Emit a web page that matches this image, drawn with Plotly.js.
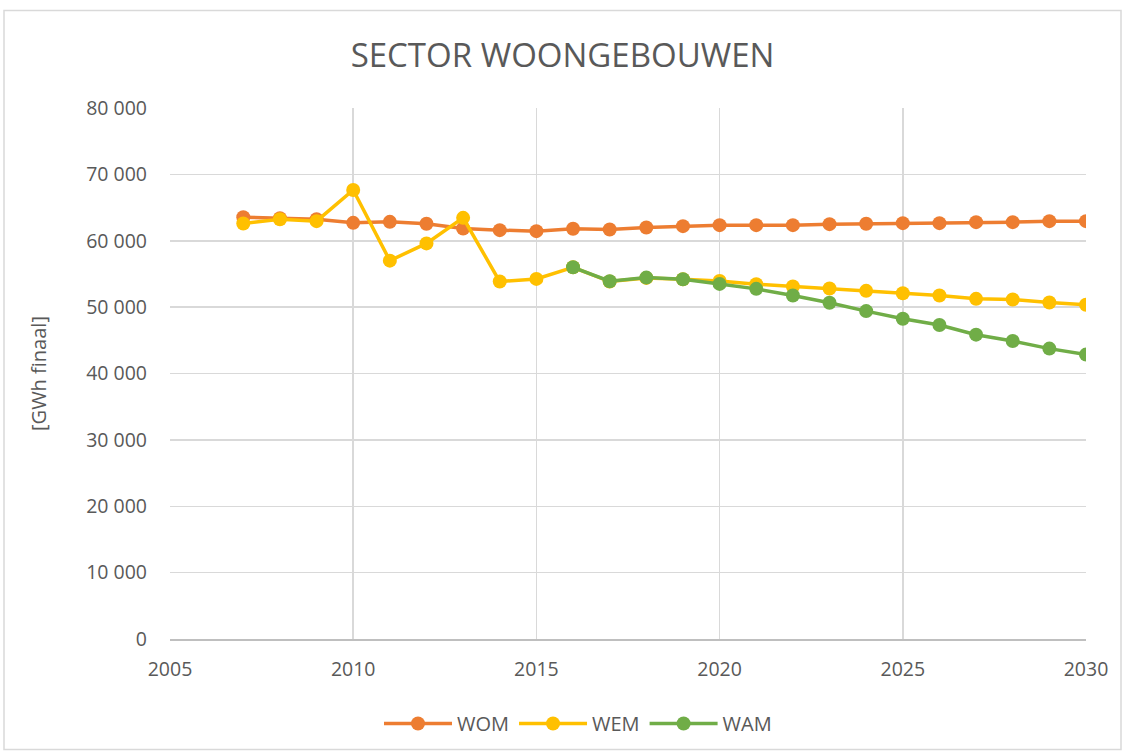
<!DOCTYPE html>
<html>
<head>
<meta charset="utf-8">
<script src="https://cdn.plot.ly/plotly-3.0.1.min.js"></script>
<style>
  html, body { margin: 0; padding: 0; background: #ffffff; }
  #chart { width: 1125px; height: 755px; }
</style>
</head>
<body>
<div id="chart"></div>
<script>
const yearsWOM = [2007,2008,2009,2010,2011,2012,2013,2014,2015,2016,2017,2018,2019,2020,2021,2022,2023,2024,2025,2026,2027,2028,2029,2030];
const valuesWOM = [63550,63400,63250,62700,62850,62550,61850,61600,61450,61800,61700,62000,62200,62350,62350,62350,62500,62550,62650,62650,62800,62800,62950,62950];

const yearsWEM = [2007,2008,2009,2010,2011,2012,2013,2014,2015,2016,2017,2018,2019,2020,2021,2022,2023,2024,2025,2026,2027,2028,2029,2030];
const valuesWEM = [62600,63250,62950,67650,57000,59600,63450,53850,54250,56000,53850,54400,54200,53950,53450,53100,52800,52450,52100,51750,51250,51150,50700,50350];

const yearsWAM = [2016,2017,2018,2019,2020,2021,2022,2023,2024,2025,2026,2027,2028,2029,2030];
const valuesWAM = [56000,53900,54450,54200,53500,52750,51750,50650,49400,48250,47300,45850,44900,43750,42850];

const seriesNames = ["WOM","WEM","WAM"];
const seriesColors = ["#ed7d31","#ffc000","#70ad47"];
const xTicks = [2005,2010,2015,2020,2025,2030];
const yTicks = [0,10000,20000,30000,40000,50000,60000,70000,80000];

const allX = [yearsWOM, yearsWEM, yearsWAM];
const allY = [valuesWOM, valuesWEM, valuesWAM];

const traces = seriesNames.map((n, i) => ({
  type: 'scatter',
  mode: 'lines+markers',
  name: n,
  x: allX[i],
  y: allY[i],
  line: {color: seriesColors[i], width: 3.5},
  marker: {color: seriesColors[i], size: 14}
}));

const FONT = '"Open Sans", Calibri, sans-serif';
const W = 1125, H = 755, L = 170, R = 39, T = 108, B = 113;
const pw = W - L - R, ph = H - T - B;

const layout = {
  width: W, height: H,
  margin: {l: L, r: R, t: T, b: B},
  paper_bgcolor: '#ffffff',
  plot_bgcolor: '#ffffff',
  font: {family: FONT, color: '#595959', size: 19},
  separators: ', ',
  title: {
    text: 'SECTOR WOONGEBOUWEN',
    font: {family: FONT, size: 33, color: '#595959'},
    x: 0.5, xanchor: 'center',
    y: 1 - 55/H, yanchor: 'middle'
  },
  xaxis: {
    range: [2005, 2030],
    tickvals: xTicks,
    ticktext: xTicks.map(String),
    showgrid: true,
    gridcolor: '#d9d9d9',
    gridwidth: 1.5,
    zeroline: false,
    showline: true,
    linecolor: '#bfbfbf',
    linewidth: 1.5,
    ticks: '',
    ticklabelstandoff: 12,
    tickfont: {family: FONT, size: 19.5, color: '#595959'},
    fixedrange: true
  },
  yaxis: {
    range: [0, 80000],
    tickvals: yTicks,
    tickformat: ',d',
    showgrid: true,
    gridcolor: '#d9d9d9',
    gridwidth: 1.5,
    zeroline: false,
    showline: false,
    ticks: '',
    ticklabelstandoff: 22,
    tickfont: {family: FONT, size: 19.5, color: '#595959'},
    title: {text: '[GWh finaal]', font: {family: FONT, size: 20, color: '#595959'}, standoff: 34},
    fixedrange: true
  },
  showlegend: true,
  legend: {
    orientation: 'h',
    x: (578 - L) / pw, xanchor: 'center',
    y: -(727 - (H - B)) / ph, yanchor: 'middle',
    font: {family: FONT, size: 20, color: '#595959'},
    itemwidth: 68,
    tracegroupgap: 0
  },
  shapes: [{
    type: 'rect', xref: 'paper', yref: 'paper',
    x0: (4 - L) / pw, x1: (1121 - L) / pw,
    y0: -(753 - (H - B)) / ph, y1: 1 + (T - 10) / ph,
    line: {color: '#d9d9d9', width: 1.5},
    fillcolor: 'rgba(0,0,0,0)',
    layer: 'below'
  }]
};

Plotly.newPlot('chart', traces, layout, {displayModeBar: false, staticPlot: true});
</script>
</body>
</html>
